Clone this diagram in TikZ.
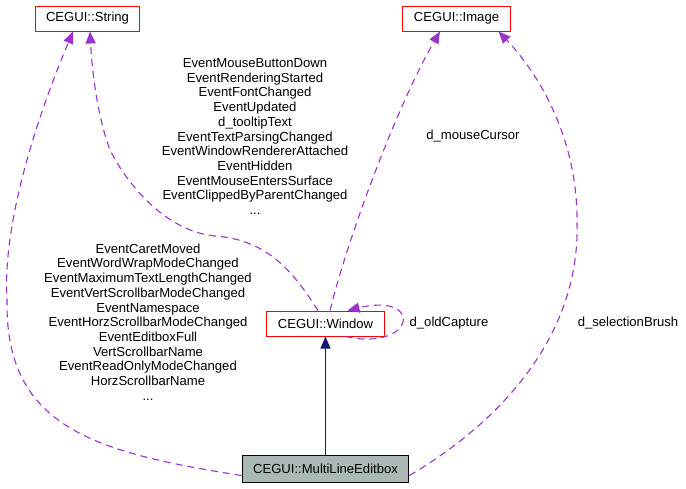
\documentclass[tikz,border=0pt]{standalone}
\usepackage{fontspec}
\setmainfont{Liberation Sans}
\usetikzlibrary{arrows.meta}
\definecolor{depcolor}{RGB}{154,50,205}
\definecolor{inhcolor}{RGB}{25,25,112}
\definecolor{boxgray}{RGB}{170,184,184}

\begin{document}
\begin{tikzpicture}[x=1pt, y=-1pt,
    txt/.style={font=\fontsize{13.1}{14.7}\selectfont},
    classbox/.style={txt, draw=red, line width=1pt, minimum height=25pt, inner xsep=11pt},
    mainbox/.style={txt, draw=black, fill=boxgray, line width=1pt, minimum height=27pt, inner xsep=11pt},
    edgelabel/.style={txt, align=center, inner sep=0pt},
    dep/.style={draw=depcolor, line width=1.1pt, dash pattern=on 7pt off 5pt,
        -{Triangle[length=12pt, width=10pt, fill=depcolor]}},
    inh/.style={draw=inhcolor, line width=1.1pt,
        -{Triangle[length=12pt, width=10pt, fill=inhcolor]}}]
    \useasboundingbox (0,0) rectangle (686,488);

    % class boxes
    \node[classbox] (string) at (87.5,18.5) {CEGUI::String};
    \node[classbox] (image) at (456.5,18.5) {CEGUI::Image};
    \node[classbox] (window) at (325.5,323.5) {CEGUI::Window};
    \node[mainbox] (editbox) at (325.5,468.5) {CEGUI::MultiLineEditbox};

    % inheritance
    \draw[inh] (editbox) -- (window);

    % editbox uses String
    \draw[dep] ([yshift=-7pt]editbox.west) .. controls (90,452) and (5,425) .. (7,300)
        .. controls (2,220) and (40,110) .. ([xshift=-14.5pt]string.south);
    \node[edgelabel] (editboxnames) at (148,322) {EventCaretMoved\\EventWordWrapModeChanged\\EventMaximumTextLengthChanged\\EventVertScrollbarModeChanged\\EventNamespace\\EventHorzScrollbarModeChanged\\EventEditboxFull\\VertScrollbarName\\EventReadOnlyModeChanged\\HorzScrollbarName\\...};

    % window uses String
    \draw[dep] ([xshift=-7.5pt]window.north) .. controls (295,275) and (270,240) .. (215,236)
        .. controls (170,232) and (130,190) .. (110,150)
        .. controls (97,115) and (92,70) .. ([xshift=2.5pt]string.south);
    \node[edgelabel] (windownames) at (255,136.5) {EventMouseButtonDown\\EventRenderingStarted\\EventFontChanged\\EventUpdated\\d\_tooltipText\\EventTextParsingChanged\\EventWindowRendererAttached\\EventHidden\\EventMouseEntersSurface\\EventClippedByParentChanged\\...};

    % window uses Image
    \draw[dep] ([xshift=4.5pt]window.north) .. controls (350,230) and (400,100) .. ([xshift=-16.5pt]image.south);
    \node[edgelabel] (mousecursor) at (473,136) {d\_mouseCursor};

    % editbox uses Image
    \draw[dep] ([yshift=-7pt]editbox.east) .. controls (495,425) and (580,340) .. (577,223)
        .. controls (578,140) and (540,75) .. ([xshift=42pt]image.south);
    \node[edgelabel] (selectionbrush) at (628,323) {d\_selectionBrush};

    % window self reference
    \draw[dep] ([xshift=20pt]window.south) .. controls (415,352) and (425,292) .. ([xshift=22pt]window.north);
    \node[edgelabel] (oldcapture) at (449,323) {d\_oldCapture};
\end{tikzpicture}
\end{document}
